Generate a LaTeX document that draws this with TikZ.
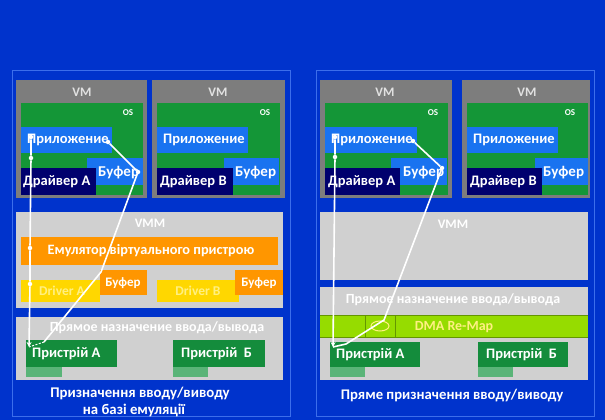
\documentclass[tikz,border=0pt]{standalone}
\usepackage{fontspec}
\setmainfont{Carlito}
\usetikzlibrary{arrows.meta}

\definecolor{fon}{RGB}{0,51,204}
\definecolor{ramka}{RGB}{60,110,235}
\definecolor{vmgray}{RGB}{125,125,125}
\definecolor{vmtext}{RGB}{225,225,225}
\definecolor{osgreen}{RGB}{20,150,55}
\definecolor{appblue}{RGB}{25,115,240}
\definecolor{navy}{RGB}{0,0,110}
\definecolor{vmmgray}{RGB}{208,208,208}
\definecolor{emuorange}{RGB}{255,150,0}
\definecolor{drvyellow}{RGB}{255,215,0}
\definecolor{drvtext}{RGB}{255,240,130}
\definecolor{lime}{RGB}{150,220,0}
\definecolor{limedark}{RGB}{100,150,0}
\definecolor{devgreen}{RGB}{20,140,60}
\definecolor{strip}{RGB}{90,180,120}

\begin{document}
\begin{tikzpicture}[x=1pt,y=-1pt,
    txt/.style={text=white,font=\bfseries\fontsize{#1}{#1}\selectfont,inner sep=0pt},
    txt/.default=12,
    dot/.style={circle,fill=white,inner sep=0pt,minimum size=4.5pt},
    wire/.style={white,line width=1.6pt}]
  %fondo
  \fill[fon] (0,0) rectangle (605,420);
  \useasboundingbox (0,0) rectangle (605,420);
  \draw[ramka] (12,70) rectangle (290,416);
  \draw[ramka] (316,70) rectangle (594,416);

  %VM sinistra
  \fill[vmgray] (16,80) rectangle (147,198);
  \node[txt=13,text=vmtext] (vm1) at (82,92) {VM};
  \fill[osgreen] (21,103) rectangle (143,195);
  \node[txt=9] (os1) at (128,113) {OS};
  \fill[appblue] (21,127) rectangle (112,153);
  \node[txt=14.5,anchor=west] (app1) at (27,140) {Приложение};
  \fill[appblue] (87,158) rectangle (143,185);
  \node[txt=15,anchor=west] (buf1) at (98,173) {Буфер};
  \fill[navy] (21,168) rectangle (96,195);
  \node[txt=14.5,anchor=west] (drv1) at (23,182) {Драйвер A};

  \fill[vmgray] (152,80) rectangle (285,198);
  \node[txt=13,text=vmtext] (vm2) at (218,92) {VM};
  \fill[osgreen] (157,103) rectangle (280,195);
  \node[txt=9] (os2) at (265,113) {OS};
  \fill[appblue] (157,127) rectangle (248,153);
  \node[txt=14.5,anchor=west] (app2) at (163,140) {Приложение};
  \fill[appblue] (224,158) rectangle (279,185);
  \node[txt=15,anchor=west] (buf2) at (235,173) {Буфер};
  \fill[navy] (157,168) rectangle (233,195);
  \node[txt=14.5,anchor=west] (drv2) at (160,182) {Драйвер B};

  %VMM sinistra
  \fill[vmmgray] (16,212) rectangle (283,308);
  \node[txt=13] (vmmL) at (150,223) {VMM};
  \fill[emuorange] (21,237) rectangle (278,265);
  \node[txt=14.3] (emu) at (151,251) {Емулятор віртуального пристрою};
  \fill[drvyellow] (21,280) rectangle (100,302);
  \node[txt=13.5,text=drvtext] (dA) at (62,291) {Driver A};
  \fill[emuorange] (100,270) rectangle (147,295);
  \node[txt=13] (bufA) at (123,283) {Буфер};
  \fill[drvyellow] (157,280) rectangle (239,302);
  \node[txt=13.5,text=drvtext] (dB) at (198,291) {Driver B};
  \fill[emuorange] (235,270) rectangle (283,295);
  \node[txt=13] (bufB) at (259,283) {Буфер};

  \fill[vmmgray] (16,317) rectangle (283,380);
  \node[txt=14] (pryL) at (157,328) {Прямое назначение ввода/вывода};
  \fill[devgreen] (26,340) rectangle (117,367);
  \fill[strip] (26,367) rectangle (62,377);
  \node[txt=14.5,anchor=west] (devA) at (32,354) {Пристрій А};
  \fill[devgreen] (173,340) rectangle (265,367);
  \fill[strip] (173,367) rectangle (208,377);
  \node[txt=14.5,anchor=west] (devB) at (181,354) {Пристрій~~Б};

  \node[txt=14.8] (capL1) at (140,393) {Призначення вводу/виводу};
  \node[txt=14.8] (capL2) at (134,410) {на базі емуляції};

  %VM destra
  \fill[vmgray] (320,80) rectangle (452,198);
  \node[txt=13,text=vmtext] (vm3) at (385,92) {VM};
  \fill[osgreen] (325,103) rectangle (448,195);
  \node[txt=9] (os3) at (433,113) {OS};
  \fill[appblue] (325,127) rectangle (417,153);
  \node[txt=14.5,anchor=west] (app3) at (331,140) {Приложение};
  \fill[appblue] (391,158) rectangle (447,185);
  \node[txt=15,anchor=west] (buf3) at (403,173) {Буфер};
  \fill[navy] (325,168) rectangle (400,195);
  \node[txt=14.5,anchor=west] (drv3) at (328,182) {Драйвер A};

  \fill[vmgray] (462,80) rectangle (590,198);
  \node[txt=13,text=vmtext] (vm4) at (527,92) {VM};
  \fill[osgreen] (467,103) rectangle (588,195);
  \node[txt=9] (os4) at (570,113) {OS};
  \fill[appblue] (467,127) rectangle (558,153);
  \node[txt=14.5,anchor=west] (app4) at (473,140) {Приложение};
  \fill[appblue] (535,158) rectangle (588,185);
  \node[txt=15,anchor=west] (buf4) at (543,173) {Буфер};
  \fill[navy] (467,168) rectangle (542,195);
  \node[txt=14.5,anchor=west] (drv4) at (470,182) {Драйвер B};

  %VMM destra
  \fill[vmmgray] (320,212) rectangle (588,280);
  \node[txt=13] (vmmR) at (453,224) {VMM};
  \fill[vmmgray] (320,287) rectangle (588,380);
  \node[txt=14] (pryR) at (453,300) {Прямое назначение ввода/вывода};
  \fill[lime] (320,315) rectangle (588,337);
  \draw[limedark,line width=1pt] (320,315) -- (588,315) (320,337) -- (588,337)
    (365,315) -- (365,337) (395,315) -- (395,337);
  \draw[drvtext,line width=1pt] (380,326) ellipse (9 and 5);
  \node[txt=14,text=drvtext] (dma) at (454,327) {DMA Re-Map};
  \fill[devgreen] (330,342) rectangle (420,367);
  \fill[strip] (330,367) rectangle (365,377);
  \node[txt=14.5,anchor=west] (devC) at (336,355) {Пристрій А};
  \fill[devgreen] (478,342) rectangle (568,367);
  \fill[strip] (478,367) rectangle (513,377);
  \node[txt=14.5,anchor=west] (devD) at (486,355) {Пристрій~~Б};

  \node[txt=14.7] (capR) at (452,396) {Пряме призначення вводу/виводу};

  %linee sinistra
  \node[dot] (a1) at (31,137) {};
  \node[dot] (a2) at (31,158) {};
  \node[dot] (a3) at (30,248) {};
  \node[dot] (a4) at (30,284) {};
  \coordinate (aEnd) at (29,347);
  \draw[wire,-{Stealth[length=5pt,width=5pt]}] (a1) -- (a2) -- (a3) -- (a4) -- (aEnd);
  \node[dot] (b1) at (108,142) {};
  \node[dot] (b2) at (138,172) {};
  \coordinate (b3) at (101,272);
  \coordinate (b4) at (44,342);
  \draw[wire] (b1) -- (b2) -- (b3) -- (b4);
  \draw[white,line width=1pt,dash pattern=on 2pt off 1.5pt] (b4) -- (aEnd);

  %linee destra
  \node[dot] (c1) at (335,137) {};
  \node[dot] (c2) at (335,157) {};
  \coordinate (cEnd) at (333,347);
  \draw[wire,-{Stealth[length=5pt,width=5pt]}] (c1) -- (c2) -- (cEnd);
  \node[dot] (d1) at (413,141) {};
  \node[dot] (d2) at (442,168) {};
  \coordinate (d3) at (384,320);
  \coordinate (d4) at (346,344);
  \draw[wire] (d1) -- (d2) -- (d3) -- (d4) -- (cEnd);
\end{tikzpicture}
\end{document}
